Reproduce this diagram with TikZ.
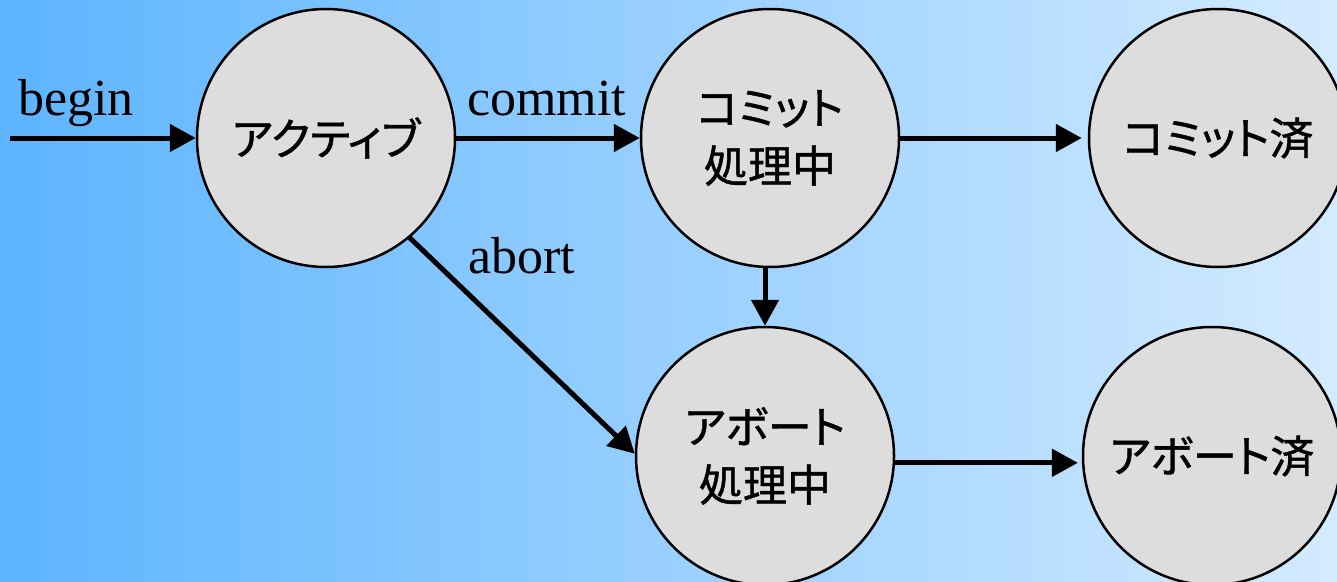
\documentclass[tikz,border=0pt]{standalone}
\usepackage{fontspec}
\setmainfont{Liberation Serif}
\newfontfamily\jp[RawFeature=+palt, FakeBold=1]{Noto Sans CJK JP}
\usetikzlibrary{arrows.meta}
\definecolor{bgL}{RGB}{92,180,255}
\definecolor{bgR}{RGB}{212,235,255}
\definecolor{stfill}{RGB}{221,221,221}
\tikzset{
  state/.style={circle, draw=black, line width=2.5pt, fill=stfill, minimum size=258pt, inner sep=0pt,
    align=center, font=\jp\fontsize{44}{58}\selectfont},
  conn/.style={line width=5pt, -{Triangle[length=26pt,width=27pt]}},
  lbl/.style={anchor=base west, inner sep=0pt, font=\fontsize{52}{60}\selectfont}
}
\begin{document}
\begin{tikzpicture}[x=1pt,y=1pt]
\useasboundingbox (0,0) rectangle (1337,-581);
\clip (0,0) rectangle (1337,-581);
\shade[left color=bgL, right color=bgR] (0,0) rectangle (1337,-581);
\node[state] (act) at (326,-138) {アクティブ};
\node[state] (cp) at (770,-138) {コミット\\処理中};
\node[state] (cd) at (1218,-138) {コミット済};
\node[state] (ap) at (765,-456) {アボート\\処理中};
\node[state] (ad) at (1212,-456) {アボート済};
\coordinate (start) at (10,-138);
\draw[conn] (start) -- (act.west);
\draw[conn] (act.east) -- (cp.west);
\draw[conn, shorten >=6pt] (cp.east) -- (cd.west);
\draw[conn] (cp.south -| ap.north) -- (ap.north);
\draw[conn] (act.-50) -- (ap.179);
\draw[conn, shorten >=4pt] (ap.-3) -- (ad.183);
\node[lbl] (lbegin) at (18,-115) {begin};
\node[lbl] (lcommit) at (467,-115) {commit};
\node[lbl] (labort) at (468,-273) {abort};
\end{tikzpicture}
\end{document}
